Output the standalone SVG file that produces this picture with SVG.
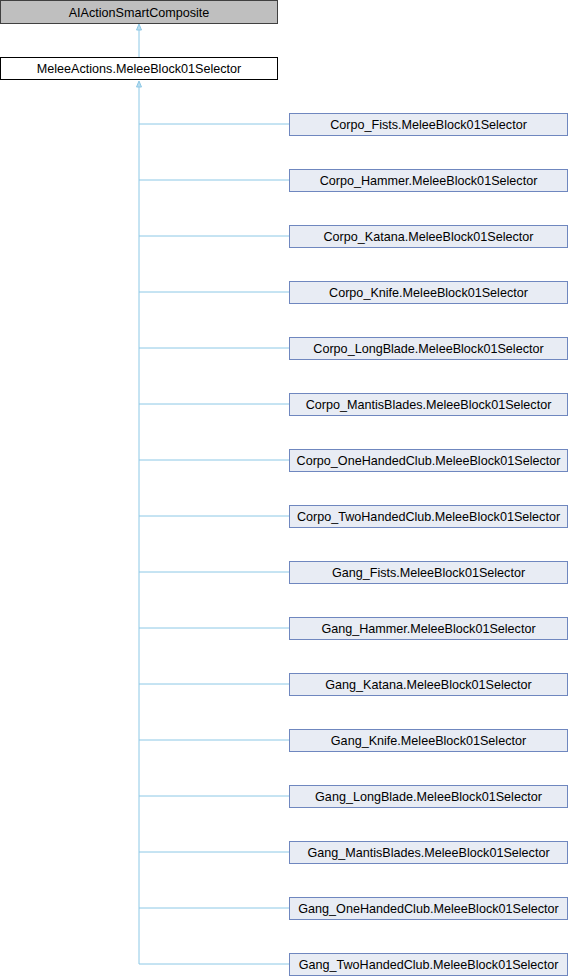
<svg xmlns="http://www.w3.org/2000/svg" width="568" height="976" viewBox="0 0 568 976">
  <style>
    text { font-family: "Liberation Sans", Arial, sans-serif; font-size: 12.6px; fill: #000; text-anchor: middle; }
    .base { fill: #bfbfbf; stroke: #404040; stroke-width: 1; }
    .mid { fill: #ffffff; stroke: #000000; stroke-width: 1; }
    .leaf { fill: #e8ecf4; stroke: #6f87bf; stroke-width: 1; }
    .edge { fill: none; stroke: #8cc8e6; stroke-width: 1; }
    .head { fill: #b8dcef; stroke: #8cc8e6; stroke-width: 1; }
  </style>

  <!-- inheritance connectors -->
  <g id="edges">
    <path class="edge" d="M139,57 V29"/>
    <path class="head" d="M139,24 L136.5,30 L141.5,30 Z"/>
    <path class="edge" d="M139,964 V86"/>
    <path class="head" d="M139,81 L136.5,87 L141.5,87 Z"/>
    <path class="edge" d="M139,124 H289 M139,180 H289 M139,236 H289 M139,292 H289 M139,348 H289 M139,404 H289 M139,460 H289 M139,516 H289 M139,572 H289 M139,628 H289 M139,684 H289 M139,740 H289 M139,796 H289 M139,852 H289 M139,908 H289 M139,964 H289"/>
  </g>

  <g id="AIActionSmartComposite">
    <rect class="base" x="0.5" y="0.5" width="277" height="23"/>
    <text x="139" y="16.5">AIActionSmartComposite</text>
  </g>
  <g id="MeleeActions.MeleeBlock01Selector">
    <rect class="mid" x="0.5" y="57.5" width="277" height="22"/>
    <text x="139" y="73">MeleeActions.MeleeBlock01Selector</text>
  </g>

  <g id="Corpo_Fists"><rect class="leaf" x="289.5" y="113.5" width="278" height="22"/><text x="428.5" y="129">Corpo_Fists.MeleeBlock01Selector</text></g>
  <g id="Corpo_Hammer"><rect class="leaf" x="289.5" y="169.5" width="278" height="22"/><text x="428.5" y="185">Corpo_Hammer.MeleeBlock01Selector</text></g>
  <g id="Corpo_Katana"><rect class="leaf" x="289.5" y="225.5" width="278" height="22"/><text x="428.5" y="241">Corpo_Katana.MeleeBlock01Selector</text></g>
  <g id="Corpo_Knife"><rect class="leaf" x="289.5" y="281.5" width="278" height="22"/><text x="428.5" y="297">Corpo_Knife.MeleeBlock01Selector</text></g>
  <g id="Corpo_LongBlade"><rect class="leaf" x="289.5" y="337.5" width="278" height="22"/><text x="428.5" y="353">Corpo_LongBlade.MeleeBlock01Selector</text></g>
  <g id="Corpo_MantisBlades"><rect class="leaf" x="289.5" y="393.5" width="278" height="22"/><text x="428.5" y="409">Corpo_MantisBlades.MeleeBlock01Selector</text></g>
  <g id="Corpo_OneHandedClub"><rect class="leaf" x="289.5" y="449.5" width="278" height="22"/><text x="428.5" y="465">Corpo_OneHandedClub.MeleeBlock01Selector</text></g>
  <g id="Corpo_TwoHandedClub"><rect class="leaf" x="289.5" y="505.5" width="278" height="22"/><text x="428.5" y="521">Corpo_TwoHandedClub.MeleeBlock01Selector</text></g>
  <g id="Gang_Fists"><rect class="leaf" x="289.5" y="561.5" width="278" height="22"/><text x="428.5" y="577">Gang_Fists.MeleeBlock01Selector</text></g>
  <g id="Gang_Hammer"><rect class="leaf" x="289.5" y="617.5" width="278" height="22"/><text x="428.5" y="633">Gang_Hammer.MeleeBlock01Selector</text></g>
  <g id="Gang_Katana"><rect class="leaf" x="289.5" y="673.5" width="278" height="22"/><text x="428.5" y="689">Gang_Katana.MeleeBlock01Selector</text></g>
  <g id="Gang_Knife"><rect class="leaf" x="289.5" y="729.5" width="278" height="22"/><text x="428.5" y="745">Gang_Knife.MeleeBlock01Selector</text></g>
  <g id="Gang_LongBlade"><rect class="leaf" x="289.5" y="785.5" width="278" height="22"/><text x="428.5" y="801">Gang_LongBlade.MeleeBlock01Selector</text></g>
  <g id="Gang_MantisBlades"><rect class="leaf" x="289.5" y="841.5" width="278" height="22"/><text x="428.5" y="857">Gang_MantisBlades.MeleeBlock01Selector</text></g>
  <g id="Gang_OneHandedClub"><rect class="leaf" x="289.5" y="897.5" width="278" height="22"/><text x="428.5" y="913">Gang_OneHandedClub.MeleeBlock01Selector</text></g>
  <g id="Gang_TwoHandedClub"><rect class="leaf" x="289.5" y="953.5" width="278" height="22"/><text x="428.5" y="969">Gang_TwoHandedClub.MeleeBlock01Selector</text></g>
</svg>
